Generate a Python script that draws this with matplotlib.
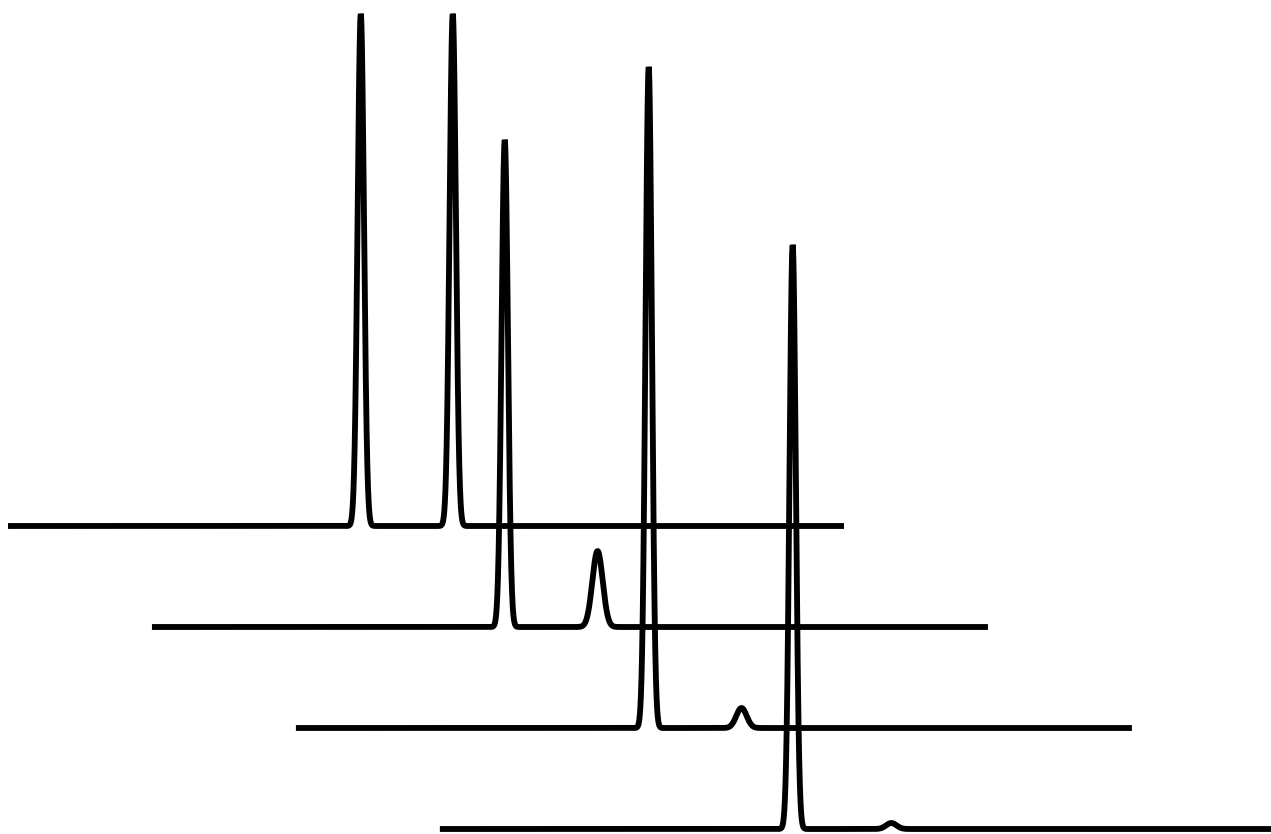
# Stacked chromatogram overlay: four runs, each shifted right and down
import numpy as np
import matplotlib.pyplot as plt

# run time (min) and the peak table of each run
RUN_END = 10.0
RUN_NAMES = ["Run 1", "Run 2", "Run 3", "Run 4"]
PEAK_TIMES = [
    [4.22, 5.32],
    [4.22, 5.33],
    [4.22, 5.33],
    [4.22, 5.40],
]
PEAK_HEIGHTS = [
    [512, 512],
    [487, 76],
    [661, 20],
    [584, 6],
]
PEAK_SIGMAS = [
    [0.038, 0.038],
    [0.038, 0.062],
    [0.038, 0.062],
    [0.038, 0.062],
]

# stacking offsets between runs
X_SHIFT = 1.722   # min
Y_SHIFT = 101     # intensity units


def chromatogram(t, times, heights, sigmas):
    y = np.zeros_like(t)
    for c, h, s in zip(times, heights, sigmas):
        y += h * np.exp(-0.5 * ((t - c) / s) ** 2)
    return y


t = np.linspace(0, RUN_END, 6001)

fig = plt.figure(figsize=(12.71, 8.34), dpi=100)
ax = fig.add_axes([0, 0, 1, 1])

n = len(RUN_NAMES)
for i, name in enumerate(RUN_NAMES):
    y = chromatogram(t, PEAK_TIMES[i], PEAK_HEIGHTS[i], PEAK_SIGMAS[i])
    ax.plot(t + i * X_SHIFT, y + (n - 1 - i) * Y_SHIFT,
            color="black", linewidth=4.2, solid_capstyle="butt",
            solid_joinstyle="bevel", label=name)

ax.set_xlim(-0.0957, 15.108)
ax.set_ylim(-5, 829)
ax.axis("off")

fig.savefig("out.png", dpi=100, facecolor="white")
